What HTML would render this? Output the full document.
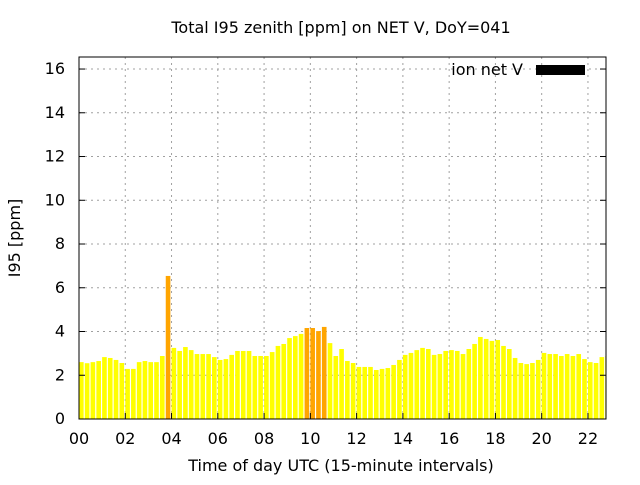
<!DOCTYPE html>
<html><head><meta charset="utf-8"><style>
body{margin:0;background:#fff}
text{font-family:"DejaVu Sans","Liberation Sans",sans-serif;font-size:16px;fill:#000}
</style></head><body>
<svg id="chart" width="640" height="480">
<text x="341" y="33" text-anchor="middle">Total I95 zenith [ppm] on NET V, DoY=041</text>
<g id="grid"></g><g id="bars"></g><g id="axes"></g>
<text x="341" y="471" text-anchor="middle">Time of day UTC (15-minute intervals)</text>
<text transform="translate(20,238) rotate(-90)" text-anchor="middle">I95 [ppm]</text>
<g>
<text x="523" y="75" text-anchor="end">ion net V</text>
<rect x="536" y="65" width="49" height="10" fill="#000"/>
</g>
</svg>
<script>
const values=[2.6,2.55,2.6,2.65,2.83,2.79,2.7,2.56,2.29,2.29,2.6,2.65,2.6,2.6,2.88,6.54,3.25,3.11,3.29,3.15,2.97,2.97,2.97,2.83,2.7,2.74,2.93,3.11,3.11,3.11,2.88,2.88,
2.88,3.06,3.34,3.43,3.70,3.79,3.89,4.16,4.16,4.02,4.21,3.47,2.88,3.2,2.65,2.56,2.38,2.38,2.38,2.24,2.29,2.33,2.47,2.7,2.93,3.02,3.15,3.25,3.2,2.93,
2.97,3.11,3.15,3.11,2.97,3.2,3.43,3.75,3.66,3.57,3.61,3.34,3.2,2.79,2.56,2.51,2.56,2.7,3.02,2.97,2.97,2.88,2.97,2.88,2.97,2.74,2.6,2.56,2.83,2.88];
const highlighted=[15,39,40,41,42];
const xTicks=["00","02","04","06","08","10","12","14","16","18","20","22"];
const yTicks=[0,2,4,6,8,10,12,14,16];
const L=79,R=606,T=57,B=419,XMAX=22.78,YMAX=16.55;
const sx=h=>L+h/XMAX*(R-L), sy=v=>B-v/YMAX*(B-T);
const NS="http://www.w3.org/2000/svg";
function mk(t,a,p){const e=document.createElementNS(NS,t);for(const k in a)e.setAttribute(k,a[k]);p.appendChild(e);return e;}
const grid=document.getElementById('grid'),bars=document.getElementById('bars'),axes=document.getElementById('axes');
const clip=mk('clipPath',{id:'pc'},document.getElementById('chart'));mk('rect',{x:L,y:T,width:R-L,height:B-T},clip);
bars.setAttribute('clip-path','url(#pc)');
xTicks.forEach((t,i)=>{const x=sx(i*2);
 if(i>0){const g=mk('line',{x1:x,x2:x,y1:T,y2:B,stroke:'#a0a0a0','stroke-dasharray':'2,4'},grid);
 
 }
 const tk=mk('line',{x1:x,x2:x,y1:B,y2:B-6,stroke:'#000'},axes);
 
 
 const tx=mk('text',{x:x,y:B+25,'text-anchor':'middle'},axes);tx.textContent=t;
 
 });
yTicks.forEach(v=>{const y=sy(v);
 if(v>0){const g=mk('line',{x1:L,x2:R,y1:y,y2:y,stroke:'#a0a0a0','stroke-dasharray':'2,4'},grid);
 
 }
 const tk=mk('line',{x1:L,x2:L+6,y1:y,y2:y,stroke:'#000'},axes);
 
 
 mk('line',{x1:R,x2:R-6,y1:y,y2:y,stroke:'#000'},axes);
 const tx=mk('text',{x:L-14,y:y+5,'text-anchor':'end'},axes);tx.textContent=v;
 
 });
values.forEach((v,i)=>{const x0=sx(i*0.25),w=(sx(0.25)-sx(0))*0.8;
 const r=mk('rect',{x:x0,y:sy(v),width:w,height:B-sy(v),fill:highlighted.includes(i)?'#ffa500':'#ffff00'},bars);
 
 });
const f=mk('rect',{x:L,y:T,width:R-L,height:B-T,fill:'none',stroke:'#000','stroke-width':1},axes);


</script>
</body></html>
